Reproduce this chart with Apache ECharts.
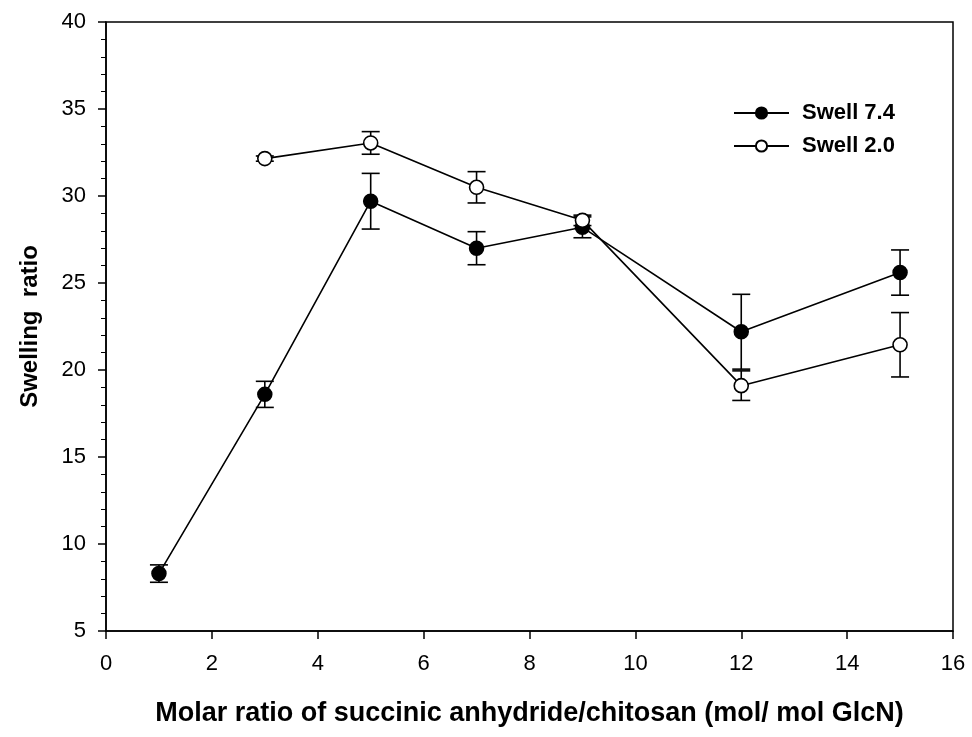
<!DOCTYPE html>
<html>
<head>
<meta charset="utf-8">
<script src="https://cdn.jsdelivr.net/npm/echarts@6/dist/echarts.min.js"></script>
<style>
  html, body { margin: 0; padding: 0; background: #fff; }
  #chart { width: 972px; height: 737px; }
</style>
</head>
<body>
<div id="chart"></div>
<script>
// molar ratio (x) and swelling ratio values
const ratio74 = [1, 3, 5, 7, 9, 12, 15];
const swell74 = [8.3, 18.6, 29.7, 27.0, 28.2, 22.2, 25.6];
const err74 = [0.5, 0.75, 1.6, 0.95, 0.6, 2.15, 1.3];

const ratio20 = [3, 5, 7, 9, 12, 15];
const swell20 = [32.15, 33.05, 30.5, 28.6, 19.1, 21.45];
const err20 = [0.15, 0.65, 0.9, 0.3, 0.85, 1.85];

const chart = echarts.init(document.getElementById('chart'));

// 误差线：竖线加上下两个短横
function errorBars(xs, ys, errs) {
  return {
    type: 'custom',
    z: 1,
    silent: true,
    data: xs.map((x, i) => [x, ys[i] - errs[i], ys[i] + errs[i]]),
    renderItem(params, api) {
      const lo = api.coord([api.value(0), api.value(1)]);
      const hi = api.coord([api.value(0), api.value(2)]);
      const cap = 9;
      const style = { stroke: '#000', lineWidth: 1.6 };
      return {
        type: 'group',
        children: [
          { type: 'line', shape: { x1: lo[0], y1: lo[1], x2: hi[0], y2: hi[1] }, style },
          { type: 'line', shape: { x1: lo[0] - cap, y1: lo[1], x2: lo[0] + cap, y2: lo[1] }, style },
          { type: 'line', shape: { x1: hi[0] - cap, y1: hi[1], x2: hi[0] + cap, y2: hi[1] }, style },
        ],
      };
    },
  };
}

const option = {
  animation: false,
  backgroundColor: '#fff',
  textStyle: { fontFamily: 'Liberation Sans, Arial, sans-serif' },
  grid: {
    left: 106,
    right: 19,
    top: 22,
    bottom: 106,
    show: true,
    borderColor: '#000',
    borderWidth: 1.5,
  },
  legend: {
    orient: 'vertical',
    left: 728,
    top: 97,
    itemWidth: 55,
    itemHeight: 14,
    itemGap: 11,
    textStyle: { fontSize: 22, fontWeight: 'bold', color: '#000', padding: [0, 0, 0, 8] },
    data: ['Swell 7.4', 'Swell 2.0'],
  },
  xAxis: {
    type: 'value',
    min: 0,
    max: 16,
    interval: 2,
    name: 'Molar ratio of succinic anhydride/chitosan (mol/ mol GlcN)',
    nameLocation: 'middle',
    nameGap: 69,
    nameTextStyle: { fontSize: 27, fontWeight: 'bold', color: '#000' },
    axisLine: { lineStyle: { color: '#000', width: 1.5 } },
    axisTick: { inside: false, length: 8, lineStyle: { color: '#000', width: 1.5 } },
    axisLabel: { fontSize: 22, color: '#000', margin: 22 },
    splitLine: { show: false },
  },
  yAxis: {
    type: 'value',
    min: 5,
    max: 40,
    interval: 5,
    name: 'Swelling  ratio',
    nameLocation: 'middle',
    nameGap: 64,
    nameTextStyle: { fontSize: 24, fontWeight: 'bold', color: '#000' },
    axisLine: { lineStyle: { color: '#000', width: 1.5 } },
    axisTick: { length: 8, lineStyle: { color: '#000', width: 1.5 } },
    minorTick: { show: true, splitNumber: 5, length: 5, lineStyle: { color: '#000', width: 1 } },
    axisLabel: { fontSize: 22, color: '#000', margin: 20 },
    splitLine: { show: false },
  },
  series: [
    errorBars(ratio74, swell74, err74),
    errorBars(ratio20, swell20, err20),
    {
      name: 'Swell 7.4',
      type: 'line',
      z: 3,
      data: ratio74.map((x, i) => [x, swell74[i]]),
      symbol: 'circle',
      symbolSize: 14,
      lineStyle: { color: '#000', width: 1.6 },
      itemStyle: { color: '#000', borderColor: '#000', borderWidth: 1.5 },
    },
    {
      name: 'Swell 2.0',
      type: 'line',
      z: 4,
      data: ratio20.map((x, i) => [x, swell20[i]]),
      symbol: 'circle',
      symbolSize: 14,
      lineStyle: { color: '#000', width: 1.6 },
      itemStyle: { color: '#fff', borderColor: '#000', borderWidth: 1.6 },
    },
  ],
};

chart.setOption(option);
</script>
</body>
</html>
